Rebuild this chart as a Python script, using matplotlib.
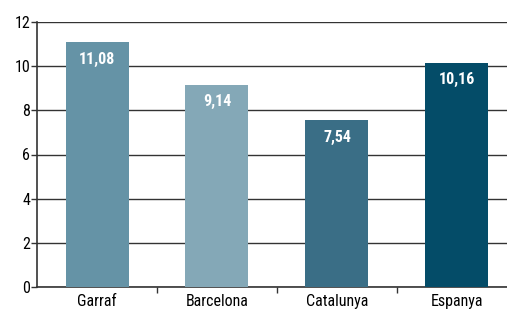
import matplotlib
matplotlib.use("Agg")
import matplotlib.pyplot as plt
from matplotlib import font_manager

categories = ["Garraf", "Barcelona", "Catalunya", "Espanya"]
values = [11.08, 9.14, 7.54, 10.16]
labels = ["11,08", "9,14", "7,54", "10,16"]
colors = ["#6593A6", "#84A8B7", "#3A6E86", "#044C68"]
yticks = [0, 2, 4, 6, 8, 10, 12]

names = {f.name for f in font_manager.fontManager.ttflist}
fam = "DejaVu Sans"
for cand in ["Liberation Sans Narrow", "Roboto Condensed", "Roboto", "Liberation Sans"]:
    if cand in names:
        fam = cand
        break
plt.rcParams["font.family"] = [fam, "DejaVu Sans"]

W, H = 507, 310
fig = plt.figure(figsize=(W / 100, H / 100), dpi=100)
left, right, top, bottom = 37, 517, 22, 287
ax = fig.add_axes([left / W, 1 - bottom / H, (right - left) / W, (bottom - top) / H])

x = list(range(len(categories)))
ax.bar(x, values, width=0.525, color=colors, zorder=3)
for xi, v, lab in zip(x, values, labels):
    ax.text(xi, v - 0.42, lab, ha="center", va="top", color="white",
            fontsize=11.5, fontweight="bold", zorder=4)

ax.set_xlim(-0.5, 3.5)
ax.set_ylim(0, 12)
ax.set_yticks(yticks)
ax.set_yticklabels([str(t) for t in yticks], fontsize=11.5)
ax.yaxis.grid(True, color="#333333", linewidth=1.0, zorder=0)
ax.set_axisbelow(True)

ax.set_xticks(x)
ax.set_xticklabels(categories, fontsize=11.5)
ax.tick_params(axis="x", length=0, pad=5)
ax.set_xticks([0.5, 1.5, 2.5], minor=True)
ax.tick_params(axis="x", which="minor", length=4, color="#333333", width=1)
ax.tick_params(axis="y", length=4, color="#333333", width=1, pad=1)

for s in ["top", "right"]:
    ax.spines[s].set_visible(False)
ax.spines["left"].set_color("#333333")
ax.spines["bottom"].set_color("#333333")
ax.spines["left"].set_linewidth(1.2)
ax.spines["bottom"].set_linewidth(1.2)

fig.savefig("out.png", dpi=100)
